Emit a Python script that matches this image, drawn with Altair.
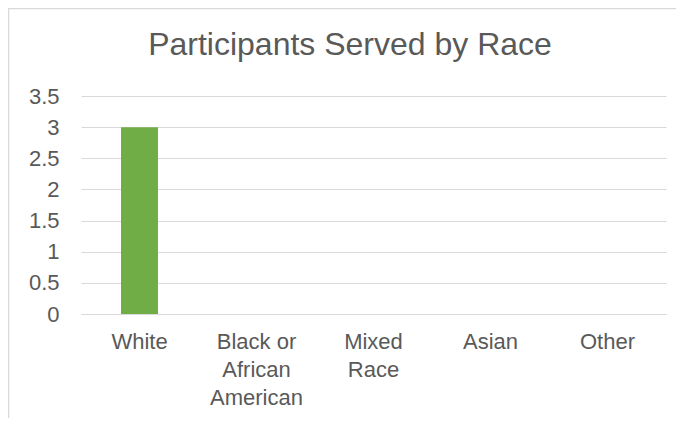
import altair as alt
import pandas as pd

categories = ["White", "Black or African American", "Mixed Race", "Asian", "Other"]
values = [3, 0, 0, 0, 0]
label_lines = [["White"], ["Black or", "African", "American"], ["Mixed", "Race"], ["Asian"], ["Other"]]
y_ticks = [0, 0.5, 1, 1.5, 2, 2.5, 3, 3.5]
title_text = "Participants Served by Race"

df = pd.DataFrame({"race": categories, "count": values})

# build label expression for multi-line labels
expr = "datum.value"
for cat, lines in reversed(list(zip(categories, label_lines))):
    arr = "[" + ",".join("'" + l + "'" for l in lines) + "]"
    expr = f"datum.value == '{cat}' ? {arr} : ({expr})"

FONT = "Liberation Sans"
GRAY = "#595959"
GRID = "#d9d9d9"

bars = alt.Chart(df).mark_bar(color="#70AD47").encode(
    x=alt.X("race:N", sort=categories, title=None,
            scale=alt.Scale(paddingInner=0.684, paddingOuter=0.342),
            axis=alt.Axis(labelExpr=expr, labelAngle=0, labelFont=FONT, labelFontSize=22,
                          labelColor=GRAY, labelLineHeight=28, labelPadding=17,
                          ticks=False, grid=False, domain=True, domainColor=GRID, domainWidth=1,
                          labelBaseline="top")),
    y=alt.Y("count:Q", title=None,
            scale=alt.Scale(domain=[0, 3.5], nice=False),
            axis=alt.Axis(values=y_ticks, format="~g", labelFont=FONT, labelFontSize=22,
                          labelColor=GRAY, labelPadding=22, ticks=False, domain=False,
                          gridColor=GRID, gridWidth=1)),
)

title = alt.Chart(alt.Data(values=[{"t": title_text}])).mark_text(
    font=FONT, fontSize=32, color=GRAY, align="center", baseline="alphabetic"
).encode(text="t:N", x=alt.value(269), y=alt.value(-41))

border = alt.Chart(alt.Data(values=[{}])).mark_rule(color=GRID, strokeWidth=1.5).encode(
    x=alt.value(-72.5), y=alt.value(-88), y2=alt.value(322)
)
border_top = alt.Chart(alt.Data(values=[{}])).mark_rule(color=GRID, strokeWidth=1.5).encode(
    x=alt.value(-73), x2=alt.value(595), y=alt.value(-87.5)
)

chart = alt.layer(border, border_top, title, bars).properties(
    width=585, height=218,
    background="white",
    autosize=alt.AutoSizeParams(type="none"),
    padding={"left": 73, "top": 88, "right": 10, "bottom": 104},
).configure_view(stroke="transparent", strokeWidth=0)

chart.save("out.html", embed_options={"renderer": "svg", "actions": False})
